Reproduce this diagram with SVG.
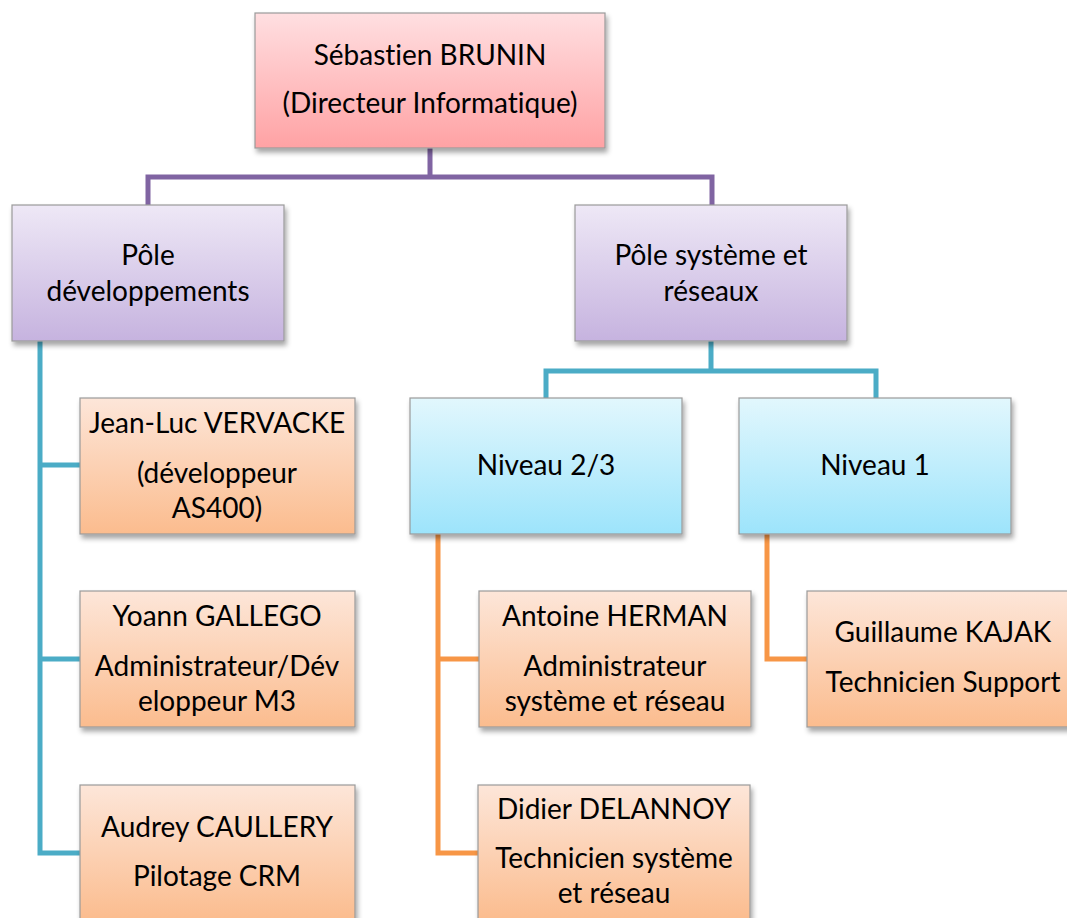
<svg xmlns="http://www.w3.org/2000/svg" width="1067" height="918" viewBox="0 0 1067 918">
<style>
.box{stroke:#9a9a9a;stroke-width:1.2;filter:url(#sh)}
.t{font-family:Lato,"Open Sans","Liberation Sans",sans-serif;font-size:28px;fill:#000;text-anchor:middle;font-variant-ligatures:none}
.c{fill:none;stroke-width:5;stroke-linejoin:miter}
</style>
<defs>
<filter id="sh" x="-10%" y="-10%" width="120%" height="130%">
<feDropShadow dx="2" dy="4" stdDeviation="2.5" flood-color="#000" flood-opacity="0.35"/>
</filter>
<linearGradient id="gPink" x1="0" y1="0" x2="0" y2="1"><stop offset="0" stop-color="#ffdfe1"/><stop offset="1" stop-color="#ffa2a4"/></linearGradient>
<linearGradient id="gPurple" x1="0" y1="0" x2="0" y2="1"><stop offset="0" stop-color="#eee8f6"/><stop offset="1" stop-color="#c6b3df"/></linearGradient>
<linearGradient id="gBlue" x1="0" y1="0" x2="0" y2="1"><stop offset="0" stop-color="#e2f7fd"/><stop offset="1" stop-color="#9de4fb"/></linearGradient>
<linearGradient id="gOrange" x1="0" y1="0" x2="0" y2="1"><stop offset="0" stop-color="#fde6d9"/><stop offset="1" stop-color="#fbbc8e"/></linearGradient>
</defs>
<rect width="1067" height="918" fill="#ffffff"/>
<g id="connectors">
<path class="c" stroke="#8064a2" d="M430,148 V177 M148,205 V177 H712 V205"/>
<path class="c" stroke="#4bacc6" d="M40,341 V853 H80 M40,465 H80 M40,659 H80"/>
<path class="c" stroke="#4bacc6" d="M711,341 V371 M546,398 V371 H876 V398"/>
<path class="c" stroke="#f79646" d="M438,534 V853 H479 M438,659 H479"/>
<path class="c" stroke="#f79646" d="M767,534 V659 H807"/>
</g>
<g id="n-brunin">
<rect class="box" x="255" y="13" width="350" height="135" fill="url(#gPink)"/>
<text class="t" x="430" y="65">Sébastien BRUNIN</text>
<text class="t" x="430" y="113">(Directeur Informatique)</text>
</g>
<g id="n-pole-dev">
<rect class="box" x="12" y="205" width="272" height="136" fill="url(#gPurple)"/>
<text class="t" x="148" y="265">Pôle</text>
<text class="t" x="148" y="301">développements</text>
</g>
<g id="n-pole-sys">
<rect class="box" x="575" y="205" width="272" height="136" fill="url(#gPurple)"/>
<text class="t" x="711" y="265">Pôle système et</text>
<text class="t" x="711" y="301">réseaux</text>
</g>
<g id="n-vervacke">
<rect class="box" x="80" y="398" width="275" height="136" fill="url(#gOrange)"/>
<text class="t" x="217" y="433">Jean-Luc VERVACKE</text>
<text class="t" x="217" y="483">(développeur</text>
<text class="t" x="217" y="518">AS400)</text>
</g>
<g id="n-gallego">
<rect class="box" x="80" y="591" width="275" height="136" fill="url(#gOrange)"/>
<text class="t" x="217" y="626">Yoann GALLEGO</text>
<text class="t" x="217" y="676">Administrateur/Dév</text>
<text class="t" x="217" y="711">eloppeur M3</text>
</g>
<g id="n-caullery">
<rect class="box" x="80" y="785" width="275" height="136" fill="url(#gOrange)"/>
<text class="t" x="217" y="837">Audrey CAULLERY</text>
<text class="t" x="217" y="886">Pilotage CRM</text>
</g>
<g id="n-niveau23">
<rect class="box" x="410" y="398" width="272" height="136" fill="url(#gBlue)"/>
<text class="t" x="546" y="475">Niveau 2/3</text>
</g>
<g id="n-niveau1">
<rect class="box" x="739" y="398" width="272" height="136" fill="url(#gBlue)"/>
<text class="t" x="875" y="475">Niveau 1</text>
</g>
<g id="n-herman">
<rect class="box" x="479" y="591" width="272" height="136" fill="url(#gOrange)"/>
<text class="t" x="615" y="626">Antoine HERMAN</text>
<text class="t" x="615" y="676">Administrateur</text>
<text class="t" x="615" y="711">système et réseau</text>
</g>
<g id="n-delannoy">
<rect class="box" x="478" y="785" width="272" height="136" fill="url(#gOrange)"/>
<text class="t" x="614" y="819">Didier DELANNOY</text>
<text class="t" x="614" y="868">Technicien système</text>
<text class="t" x="614" y="903">et réseau</text>
</g>
<g id="n-kajak">
<rect class="box" x="807" y="591" width="272" height="136" fill="url(#gOrange)"/>
<text class="t" x="943" y="642">Guillaume KAJAK</text>
<text class="t" x="943" y="692">Technicien Support</text>
</g>
</svg>
